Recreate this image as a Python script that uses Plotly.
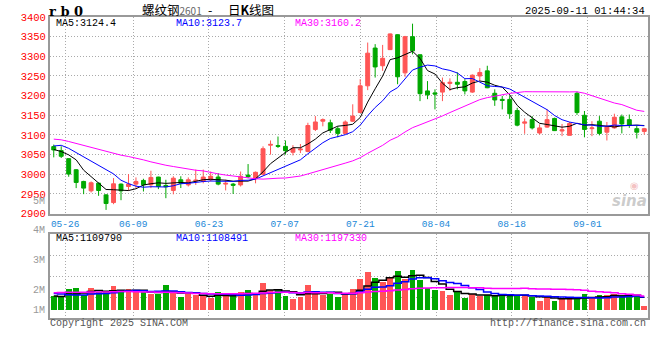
import plotly.graph_objects as go

# ---------------- data ----------------
opens = [3070.4, 3060.2, 3039.7, 3011.6, 2981.8, 2957.9, 2977.5, 2947.7, 2928.1, 2975.0,
         2969.0, 2975.0, 2984.3, 2973.3, 2992.9, 2971.6, 2959, 2986, 2973, 2983,
         2982, 2986, 2993, 2975, 2975, 2973, 2998, 2990, 3000, 3074,
         3073, 3071, 3056, 3062, 3058, 3114, 3135, 3131, 3116, 3104,
         3135, 3157, 3225, 3321, 3276, 3317, 3355, 3258, 3350, 3304,
         3212, 3207, 3209, 3231, 3234, 3236, 3209, 3250, 3263, 3206,
         3190.5, 3190.5, 3162, 3130, 3139, 3105, 3120, 3142, 3110, 3099,
         3206, 3150, 3116, 3135, 3107, 3118, 3146, 3139, 3116, 3109]
closes = [3061.9, 3045.7, 3000.5, 2979.2, 2964.8, 2978.4, 2958.8, 2925.6, 2975.8, 2957.9,
          2975.0, 2981.8, 2973.3, 2992.0, 2969.0, 2968.2, 2990, 2977, 2986, 2985,
          2993, 2995, 2975, 2977, 2972, 2995, 2994, 3005, 3065, 3076,
          3071, 3060, 3066, 3064, 3124, 3133, 3139, 3112, 3104, 3133,
          3148, 3225, 3308, 3273, 3295, 3357, 3248, 3350, 3314, 3205,
          3202, 3204, 3233, 3234, 3229, 3212, 3252, 3259, 3220, 3189,
          3188, 3154, 3125, 3133, 3118, 3118, 3139, 3111, 3113, 3129,
          3157, 3114, 3118, 3104, 3121, 3145, 3128, 3124, 3107, 3116]
highs = [3075.5, 3071.3, 3040.5, 3013.3, 2983.5, 2981.8, 2978.4, 2948.5, 2990.3, 2976.7,
         3000.5, 2992.0, 2988.6, 3009.0, 2993.7, 2986.0, 2995, 2995, 2992, 3012,
         3012, 3007, 3003, 2986, 2978, 3007, 3026, 3007, 3071, 3086,
         3096, 3086, 3074, 3077, 3131, 3148, 3142, 3139, 3122, 3137,
         3178, 3242, 3335, 3331, 3329, 3358, 3356, 3352, 3383, 3305,
         3237, 3216, 3246, 3244, 3259, 3242, 3254, 3270, 3276, 3216,
         3199, 3199, 3169, 3142, 3148, 3127, 3165, 3144, 3128, 3133,
         3210, 3161, 3135, 3148, 3133, 3154, 3152, 3152, 3124, 3118]
lows = [3043.0, 3041.4, 2993.7, 2964.8, 2949.4, 2953.7, 2945.2, 2909.4, 2923.9, 2934.1,
        2958.0, 2964.8, 2956.2, 2964.8, 2962.2, 2939.2, 2949, 2965, 2969, 2973,
        2977, 2982, 2972, 2959, 2950, 2969, 2990, 2977, 2999, 3050,
        3067, 3050, 3048, 3054, 3056, 3110, 3122, 3105, 3094, 3103,
        3133, 3156, 3214, 3246, 3263, 3316, 3229, 3248, 3305, 3186,
        3191, 3165, 3186, 3212, 3216, 3203, 3207, 3237, 3219, 3174,
        3165, 3141, 3122, 3103, 3114, 3101, 3118, 3110, 3097, 3099,
        3151, 3094, 3097, 3099, 3086, 3116, 3104, 3118, 3091, 3101]
volumes = [1200000, 1150000, 1770000, 1860000, 1260000, 1860000, 1480000, 1530000, 2030000, 1500000,
           1770000, 1550000, 1480000, 1370000, 1340000, 2110000, 1410000, 1060000, 1380000, 1250000,
           1210000, 980000, 1540000, 1200000, 1180000, 1480000, 1690000, 1330000, 2260000, 1690000,
           1640000, 1200000, 960000, 1060000, 2110000, 1610000, 1300000, 1380000, 1120000, 1460000,
           1780000, 2600000, 3120000, 2680000, 2340000, 2760000, 3270000, 2610000, 3340000, 2520000,
           1860000, 1640000, 1550000, 1230000, 1610000, 1040000, 1370000, 1150000, 1260000, 1290000,
           1230000, 1290000, 1260000, 1290000, 1090000, 800000, 1200000, 800000, 1010000, 1060000,
           950000, 1370000, 980000, 1230000, 1230000, 1370000, 1260000, 1260000, 1260000, 380000]

# moving-average values before enough in-window history exists
ma5_head = [3063.0, 3057.9, 3049.4, 3036.7]
ma10_head = [3072.0, 3073.7, 3066.0, 3055.4, 3043.5, 3032.4, 3022.2, 3011.2, 3001.0]
ma30_head = [3089.4, 3087.7, 3083.4, 3078.3, 3074.0, 3069.0, 3064.7, 3059.6, 3053.7, 3048.6,
             3045.2, 3041.8, 3036.7, 3031.6, 3026.5, 3023.0, 3019.7, 3016.3, 3012.9, 3010.3,
             3008.6, 3004.4, 3001.0, 2998.0, 2995.4, 2992.9, 2990.3, 2988.6, 2987.7]
vma5_head = [1200000, 1170000, 1370000, 1370000]
vma10_head = [1420000, 1370000, 1310000, 1280000, 1280000, 1370000, 1390000, 1420000, 1480000]
vma30_head = [1470000, 1500000, 1510000, 1520000, 1520000, 1530000, 1530000, 1540000, 1560000, 1570000,
              1570000, 1560000, 1540000, 1530000, 1520000, 1520000, 1500000, 1470000, 1450000, 1420000,
              1400000, 1390000, 1390000, 1380000, 1380000, 1390000, 1410000, 1440000, 1460000]

date_labels = ["05-26", "06-09", "06-23", "07-07", "07-21", "08-04", "08-18", "09-01"]
date_index = [2, 11, 21, 31, 41, 51, 61, 71]
price_ticks = [2900, 2950, 3000, 3050, 3100, 3150, 3200, 3250, 3300, 3350, 3400]
vol_tick_labels = ["5M", "4M", "3M", "2M", "1M"]
price_legend = ["MA5:3124.4", "MA10:3123.7", "MA30:3160.2"]
vol_legend = ["MA5:1109790", "MA10:1108491", "MA30:1197330"]

# ---------------- helpers ----------------
N = len(closes)
idx = list(range(N))


def moving(vals, n, head):
    out = list(head)
    for i in range(n - 1, len(vals)):
        out.append(sum(vals[i - n + 1:i + 1]) / n)
    return out


ma5 = moving(closes, 5, ma5_head)
ma10 = moving(closes, 10, ma10_head)
ma30 = moving(closes, 30, ma30_head)
vma5 = moving(volumes, 5, vma5_head)
vma10 = moving(volumes, 10, vma10_head)
vma30 = moving(volumes, 30, vma30_head)

W, H = 660, 360
ML, MR, MT, MB = 50, 10, 17, 42
PW = W - ML - MR
PH = H - MT - MB


def px(x):
    return (x - ML) / PW


def py(y):
    return (H - MB - y) / PH


RED = "#FF5555"
GREEN = "#00A800"
GRID = "#AAAAAA"
BORDER = "#999999"
MONO = "Liberation Mono, DejaVu Sans Mono, monospace"
CJK = "Noto Sans CJK SC, sans-serif"

# volume axis: baseline at pixel 310.7, 12.2 px per million
vol_lo = -(H - MB - 310.7) / 12.2 * 1e6
vol_hi = (310.7 - 234.3) / 12.2 * 1e6
vol_grid = [vol_lo + k * (vol_hi - vol_lo) / 4 for k in (1, 2, 3)]

grid_x = [i * N / (N - 1) - 0.5 for i in date_index]

fig = go.Figure()

fig.add_trace(go.Candlestick(
    x=idx, open=opens, high=highs, low=lows, close=closes,
    increasing=dict(line=dict(color=RED, width=1), fillcolor=RED),
    decreasing=dict(line=dict(color=GREEN, width=1), fillcolor=GREEN),
    whiskerwidth=0, hoverinfo="skip", showlegend=False, xaxis="x", yaxis="y"))

for vals, col in ((ma5, "#000000"), (ma10, "#0000FF"), (ma30, "#FF00FF")):
    fig.add_trace(go.Scatter(x=idx, y=vals, mode="lines", line=dict(color=col, width=1),
                             hoverinfo="skip", showlegend=False, xaxis="x", yaxis="y"))

vol_colors = [RED if c >= o else GREEN for o, c in zip(opens, closes)]
fig.add_trace(go.Bar(x=idx, y=volumes, marker=dict(color=vol_colors, line=dict(width=0)),
                     width=0.78, hoverinfo="skip", showlegend=False, xaxis="x2", yaxis="y2"))
for vals, col in ((vma5, "#000000"), (vma10, "#0000FF"), (vma30, "#FF00FF")):
    fig.add_trace(go.Scatter(x=idx, y=vals, mode="lines", line=dict(color=col, width=1.5, shape="hvh"),
                             hoverinfo="skip", showlegend=False, xaxis="x2", yaxis="y2"))

annotations = []


def txt(text, x, y, color="#000", size=10, family=MONO, anchor="left"):
    annotations.append(dict(text=text, x=px(x), y=py(y), xref="paper", yref="paper",
                            xanchor=anchor, yanchor="middle", showarrow=False,
                            font=dict(color=color, size=size, family=family)))


txt("<b>r b 0</b>", 47, 11.5, size=13, family="DejaVu Serif, serif")
txt("螺纹钢<span style='font-size:10px;color:#666666'>2601</span>", 140, 10, size=12.5, family=CJK)
txt("-", 207, 10, size=12.5, family=CJK)
txt("日<b>K</b>线图", 227, 10, size=12.5, family=CJK)
txt("2025-09-11 01:44:34", 649, 11.5, size=10.5, anchor="right")

for t, x, c in zip(price_legend, (54, 174, 294), ("#000000", "#0000FF", "#FF00FF")):
    txt(t, x, 23.5, color=c, size=10)
for t, x, c in zip(vol_legend, (54, 174, 294), ("#000000", "#0000FF", "#FF00FF")):
    txt(t, x, 238.5, color=c, size=10)

for t, y in zip(vol_tick_labels, (202, 230.7, 260.7, 290.7, 310.7)):
    txt(t, 47, y, color="#999999", size=10, anchor="right")

txt("Copyright 2025 SINA.COM", 48, 323.5, color="#555555", size=10)
txt("http://finance.sina.com.cn", 650, 323.5, color="#555555", size=10, anchor="right")

# sina watermark
txt("◉", 630, 185, color="rgba(230,120,120,0.45)", size=10, family="DejaVu Sans")
txt("<b><i>sina</i></b>", 651, 201, color="rgba(160,160,160,0.55)", size=15,
    family="DejaVu Sans, sans-serif", anchor="right")

fig.update_layout(
    width=W, height=H, margin=dict(l=ML, r=MR, t=MT, b=MB),
    paper_bgcolor="white", plot_bgcolor="white",
    showlegend=False, bargap=0, boxgap=0.25,
    annotations=annotations,
    xaxis=dict(domain=[0, 1], range=[-0.5, N - 0.5], anchor="y",
               tickvals=grid_x, ticktext=date_labels, ticks="",
               tickfont=dict(color="#1A88D8", size=9.5, family=MONO),
               showgrid=True, gridcolor=GRID, griddash="1px,2px", gridwidth=1,
               showline=True, linecolor=BORDER, linewidth=2, mirror=True,
               zeroline=False, rangeslider=dict(visible=False), fixedrange=True),
    yaxis=dict(domain=[py(213.6), 1], range=[2900, 3400], anchor="x",
               tickvals=price_ticks, ticktext=[str(v) for v in price_ticks], ticks="",
               tickfont=dict(color="#FF0000", size=10.5, family=MONO),
               showgrid=True, gridcolor=GRID, griddash="1px,2px", gridwidth=1,
               showline=True, linecolor=BORDER, linewidth=2, mirror=True,
               zeroline=False, fixedrange=True),
    xaxis2=dict(domain=[0, 1], range=[-0.5, N - 0.5], anchor="y2", matches="x",
                tickvals=grid_x, showticklabels=False, ticks="",
                showgrid=True, gridcolor=GRID, griddash="1px,2px", gridwidth=1,
                showline=True, linecolor=BORDER, linewidth=2, mirror=True,
                zeroline=False, fixedrange=True),
    yaxis2=dict(domain=[0, py(234.3)], range=[vol_lo, vol_hi], anchor="x2",
                tickvals=vol_grid, showticklabels=False, ticks="",
                showgrid=True, gridcolor=GRID, griddash="1px,2px", gridwidth=1,
                showline=True, linecolor=BORDER, linewidth=2, mirror=True,
                zeroline=False, fixedrange=True),
)

fig.write_html("out.html")
